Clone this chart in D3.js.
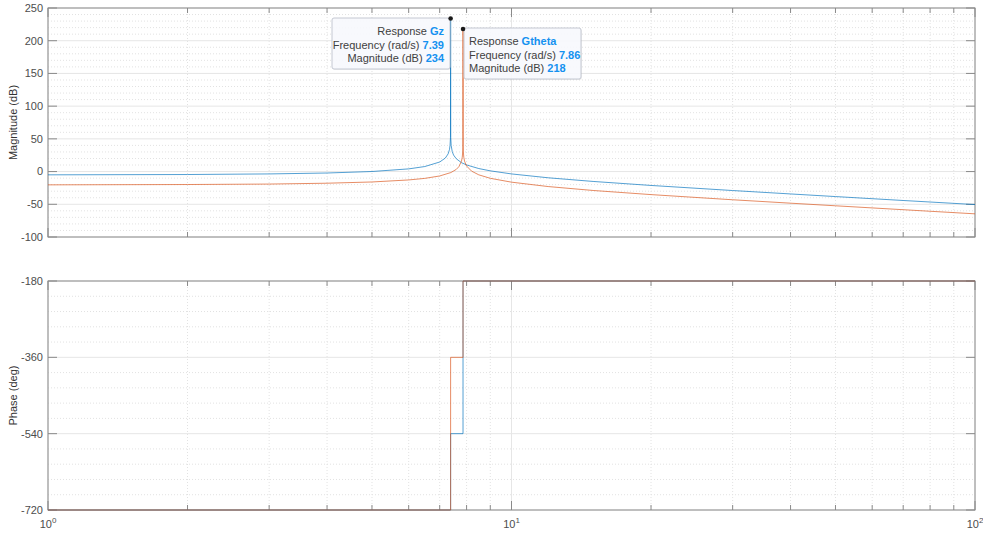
<!doctype html>
<html>
<head>
<meta charset="utf-8">
<title>Bode diagram</title>
<script src="https://d3js.org/d3.v7.min.js"></script>
<style>
  body { margin: 0; background: #fff; }
  svg { font-family: "Liberation Sans", Arial, sans-serif; }
  .tick-label { font-size: 11px; fill: #4d4d4d; }
  .ylabel { font-size: 11px; fill: #333; }
  .tip { font-size: 11px; fill: #404040; }
  .tip .val { fill: #1491f0; font-weight: bold; }
</style>
</head>
<body>
<script>
// magnitude: [rad/s, dB]
var gzMag = [
  [1, -5], [2, -4.5], [3, -3.6], [4, -2.2], [5, 0.1], [6, 4.1], [6.5, 7.7],
  [7, 14.6], [7.2, 20.7], [7.3, 27.1], [7.35, 34], [7.37, 40.3], [7.385, 52.5],
  [7.39, 234],
  [7.395, 52], [7.41, 40], [7.45, 30.5], [7.5, 25.2], [7.6, 19.6], [7.8, 13.6],
  [8, 10.1], [8.5, 4.6], [9, 1.1], [10, -3.6], [12, -9.5], [15, -15.1],
  [20, -21.2], [30, -29], [40, -34.2], [50, -38.2], [70, -44.2], [100, -50.4]
];
var gthetaMag = [
  [1, -20.3], [2, -19.8], [3, -19.1], [4, -17.8], [5, -15.9], [6, -12.8],
  [6.5, -10.4], [7, -6.7], [7.4, -1.5], [7.6, 3.3], [7.7, 7.5], [7.8, 15.9],
  [7.83, 22], [7.85, 31.3], [7.855, 37.3],
  [7.86, 218],
  [7.865, 37.6], [7.87, 31.3], [7.89, 21.9], [7.92, 15.8], [8, 8.5], [8.2, 0.7],
  [8.5, -5], [9, -10.3], [10, -16.2], [12, -22.9], [15, -28.9], [20, -35.2],
  [30, -43.1], [40, -48.3], [50, -52.3], [70, -58.3], [100, -64.6]
];
// phase steps: [rad/s, deg]
var gzPhase = [[1, -720], [7.39, -540], [7.86, -180], [100, -180]];
var gthetaPhase = [[1, -720], [7.39, -360], [7.86, -180], [100, -180]];

var magTicks = [-100, -50, 0, 50, 100, 150, 200, 250];
var phaseTicks = [-720, -540, -360, -180];
var freqTicks = [1, 10, 100];

var tips = [
  { name: "Gz", freq: "7.39", mag: "234", w: 7.39, db: 234 },
  { name: "Gtheta", freq: "7.86", mag: "218", w: 7.86, db: 218 }
];

var W = 983, H = 536;
var left = 48, right = 975;
var colors = ["#0072BD", "#D95319"];

var svg = d3.select("body").append("svg")
  .attr("width", W).attr("height", H);

var x = d3.scaleLog().domain([1, 100]).range([left, right]);
var yMag = d3.scaleLinear().domain([-100, 250]).range([237, 8]);
var yPh = d3.scaleLinear().domain([-720, -180]).range([510, 281]);

var minorX = [];
[1, 10].forEach(function(d) {
  for (var k = 2; k <= 9; k++) minorX.push(d * k);
});

function drawAxes(y, ticks, minorStep, label) {
  var g = svg.append("g");
  var y0 = y.range()[0], y1 = y.range()[1];
  var dom = y.domain();
  var minorY = d3.range(dom[0], dom[1] + 0.001, minorStep)
    .filter(function(v) { return ticks.indexOf(v) < 0; });

  // minor grid
  g.selectAll(".mgx").data(minorX).enter().append("line")
    .attr("x1", x).attr("x2", x).attr("y1", y0).attr("y2", y1)
    .attr("stroke", "#e2e2e2").attr("stroke-dasharray", "1,2");
  g.selectAll(".mgy").data(minorY).enter().append("line")
    .attr("x1", left).attr("x2", right).attr("y1", y).attr("y2", y)
    .attr("stroke", "#e2e2e2").attr("stroke-dasharray", "1,2");
  // major grid
  g.selectAll(".gx").data(freqTicks).enter().append("line")
    .attr("x1", x).attr("x2", x).attr("y1", y0).attr("y2", y1)
    .attr("stroke", "#e6e6e6");
  g.selectAll(".gy").data(ticks).enter().append("line")
    .attr("x1", left).attr("x2", right).attr("y1", y).attr("y2", y)
    .attr("stroke", "#e6e6e6");

  // box
  g.append("rect")
    .attr("x", left).attr("y", y1)
    .attr("width", right - left).attr("height", y0 - y1)
    .attr("fill", "none").attr("stroke", "#8a8a8a");

  // ticks
  ticks.forEach(function(v) {
    g.append("line").attr("x1", left).attr("x2", left + 9)
      .attr("y1", y(v)).attr("y2", y(v)).attr("stroke", "#8a8a8a");
    g.append("line").attr("x1", right).attr("x2", right - 9)
      .attr("y1", y(v)).attr("y2", y(v)).attr("stroke", "#8a8a8a");
    g.append("text").attr("class", "tick-label")
      .attr("x", left - 5).attr("y", y(v)).attr("dy", "0.35em")
      .attr("text-anchor", "end").text(v);
  });
  freqTicks.concat(minorX).forEach(function(v) {
    var len = freqTicks.indexOf(v) >= 0 ? 9 : 5;
    g.append("line").attr("x1", x(v)).attr("x2", x(v))
      .attr("y1", y0).attr("y2", y0 - len).attr("stroke", "#8a8a8a");
    g.append("line").attr("x1", x(v)).attr("x2", x(v))
      .attr("y1", y1).attr("y2", y1 + len).attr("stroke", "#8a8a8a");
  });

  g.append("text").attr("class", "ylabel")
    .attr("transform", "translate(17," + ((y0 + y1) / 2) + ") rotate(-90)")
    .attr("text-anchor", "middle").text(label);
  return g;
}

drawAxes(yMag, magTicks, 10, "Magnitude (dB)");
drawAxes(yPh, phaseTicks, 36, "Phase (deg)");

// x tick labels (bottom axes only)
freqTicks.forEach(function(v) {
  var t = svg.append("text").attr("class", "tick-label")
    .attr("x", x(v)).attr("y", 528).attr("text-anchor", "middle");
  t.append("tspan").text("10");
  t.append("tspan").attr("dy", -5).style("font-size", "8px")
    .text(Math.round(Math.log10(v)));
});

var magLine = d3.line()
  .x(function(d) { return x(d[0]); })
  .y(function(d) { return yMag(d[1]); });
var phLine = d3.line()
  .curve(d3.curveStepAfter)
  .x(function(d) { return x(d[0]); })
  .y(function(d) { return yPh(d[1]); });

[gzMag, gthetaMag].forEach(function(s, i) {
  svg.append("path").attr("d", magLine(s))
    .attr("fill", "none").attr("stroke", colors[i]).attr("stroke-width", 0.9)
    .attr("stroke-opacity", 0.75);
});
[gzPhase, gthetaPhase].forEach(function(s, i) {
  svg.append("path").attr("d", phLine(s))
    .attr("fill", "none").attr("stroke", colors[i]).attr("stroke-width", 0.9)
    .attr("stroke-opacity", 0.75);
});

// data tips
var tipBoxes = [
  { x: 332, y: 18, w: 118, h: 51, align: "end" },
  { x: 464, y: 28, w: 117, h: 51, align: "start" }
];
tips.forEach(function(t, i) {
  var b = tipBoxes[i];
  var g = svg.append("g").attr("class", "tip");
  g.append("rect").attr("x", b.x + 1).attr("y", b.y + 1)
    .attr("width", b.w).attr("height", b.h).attr("rx", 2)
    .attr("fill", "#000").attr("fill-opacity", 0.06);
  g.append("rect").attr("x", b.x).attr("y", b.y)
    .attr("width", b.w).attr("height", b.h).attr("rx", 2)
    .attr("fill", "#f8f9fd").attr("fill-opacity", 0.95)
    .attr("stroke", "#c4c8d2");
  var tx = b.align === "end" ? b.x + b.w - 6 : b.x + 5;
  var rows = [["Response ", t.name], ["Frequency (rad/s) ", t.freq], ["Magnitude (dB) ", t.mag]];
  rows.forEach(function(r, j) {
    var txt = g.append("text").attr("x", tx).attr("y", b.y + 13 + j * 13.7)
      .attr("dy", "0.35em").attr("text-anchor", b.align);
    txt.append("tspan").text(r[0]);
    txt.append("tspan").attr("class", "val").text(r[1]);
  });
  svg.append("circle").attr("cx", x(t.w)).attr("cy", yMag(t.db)).attr("r", 2.3)
    .attr("fill", "#1a1a1a");
});
</script>
</body>
</html>
